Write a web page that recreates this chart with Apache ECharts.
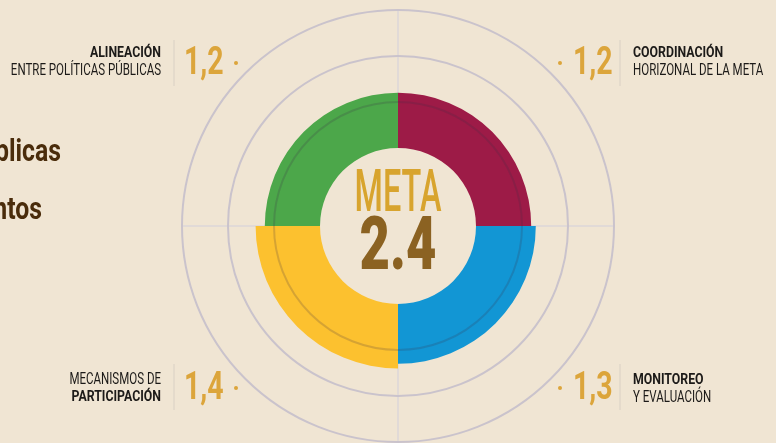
<!DOCTYPE html>
<html>
<head>
<meta charset="utf-8">
<script src="https://cdn.jsdelivr.net/npm/echarts@6/dist/echarts.min.js"></script>
<style>
  html, body { margin: 0; padding: 0; background: #f0e5d3; }
  #chart { width: 776px; height: 443px; }
</style>
</head>
<body>
<div id="chart"></div>
<script>
// datos
const categories = ['Coordinación', 'Monitoreo', 'Participación', 'Alineación'];
const values = [1.2, 1.3, 1.4, 1.2];
const colors = ['#9d1b47', '#1296d4', '#fcc12f', '#4ca74a'];
const labelTop = ['COORDINACIÓN', 'MONITOREO', 'MECANISMOS DE', 'ALINEACIÓN'];
const labelBottom = ['HORIZONAL DE LA META', 'Y EVALUACIÓN', 'PARTICIPACIÓN', 'ENTRE POLÍTICAS PÚBLICAS'];
const boldTop = [true, true, false, true];
const metaTitle = 'META';
const metaValue = '2.4';
const sideText = ['públicas', 'elementos'];

// layout
const center = [398, 226];
const isTop = [true, false, false, true];
const isRight = [true, true, false, false];
const FONT = 'Roboto, "Noto Sans", sans-serif';

const chart = echarts.init(document.getElementById('chart'));

const graphic = [];

// texto cortado a la izquierda
graphic.push({
  type: 'text', x: 61, y: 153, scaleX: 0.8,
  style: { text: sideText[0], font: 'bold 31px ' + FONT, fill: '#4a2c0b', align: 'right', verticalAlign: 'middle' }
});
graphic.push({
  type: 'text', x: 42, y: 211, scaleX: 0.8,
  style: { text: sideText[1], font: 'bold 31px ' + FONT, fill: '#4a2c0b', align: 'right', verticalAlign: 'middle' }
});

// centro
graphic.push({
  type: 'text', x: center[0], y: 196, scaleX: 0.55,
  style: { text: metaTitle, font: '500 59px ' + FONT, fill: '#d8a42e', align: 'center', verticalAlign: 'middle' }
});
graphic.push({
  type: 'text', x: center[0], y: 250, scaleX: 0.7,
  style: { text: metaValue, font: '900 75px ' + FONT, fill: '#8b6222', align: 'center', verticalAlign: 'middle' }
});

// etiquetas de esquina
categories.forEach(function (c, i) {
  const top = isTop[i];
  const right = isRight[i];
  const l1 = top ? 53.5 : 380;
  const l2 = top ? 71 : 397.5;
  const numY = top ? 64 : 389.5;
  const dotY = top ? 63 : 388;
  const sep = top ? [40, 86] : [364, 410];
  const textX = right ? 633 : 161;
  const sepX = right ? 620 : 174;
  const numX = right ? 573 : 184;
  const dotX = right ? 560 : 236;
  const align = right ? 'left' : 'right';

  graphic.push({
    type: 'text', x: textX, y: l1, scaleX: boldTop[i] ? 0.82 : 0.72,
    style: { text: labelTop[i], font: (boldTop[i] ? 'bold 15px ' : '16px ') + FONT, fill: '#1c1a18', align: align, verticalAlign: 'middle' }
  });
  graphic.push({
    type: 'text', x: textX, y: l2, scaleX: boldTop[i] ? 0.72 : 0.82,
    style: { text: labelBottom[i], font: (boldTop[i] ? '16px ' : 'bold 15px ') + FONT, fill: '#1c1a18', align: align, verticalAlign: 'middle' }
  });
  graphic.push({
    type: 'line', shape: { x1: sepX, y1: sep[0], x2: sepX, y2: sep[1] },
    style: { stroke: '#d9d0c4', lineWidth: 1 }
  });
  graphic.push({
    type: 'text', x: numX, y: numY, scaleX: 0.75,
    style: { text: String(values[i]).replace('.', ','), font: 'bold 38px ' + FONT, fill: '#dca53b', align: 'left', verticalAlign: 'middle' }
  });
  graphic.push({
    type: 'circle', shape: { cx: dotX, cy: dotY, r: 2 },
    style: { fill: '#dca53b' }
  });
});

const option = {
  backgroundColor: '#f0e5d3',
  animation: false,
  polar: { center: center, radius: [78, 216] },
  angleAxis: {
    type: 'category',
    data: categories,
    startAngle: 90,
    clockwise: true,
    axisLine: { show: false },
    axisTick: { show: false },
    axisLabel: { show: false },
    splitLine: { show: true, lineStyle: { color: '#dcd6d9', width: 1.5 } }
  },
  radiusAxis: {
    min: 0,
    max: 3,
    interval: 1,
    z: 10,
    axisLine: { show: false },
    axisTick: { show: false },
    axisLabel: { show: false },
    splitLine: {
      show: true,
      lineStyle: { color: ['rgba(0,0,0,0)', 'rgba(60,45,70,0.2)', '#cac3cc', '#cac3cc'], width: 2 }
    }
  },
  series: [
    {
      type: 'bar',
      coordinateSystem: 'polar',
      barCategoryGap: '0%',
      silent: true,
      data: values.map(function (v, i) {
        return { value: v, itemStyle: { color: colors[i] } };
      })
    }
  ],
  graphic: graphic
};

chart.setOption(option);
</script>
</body>
</html>
